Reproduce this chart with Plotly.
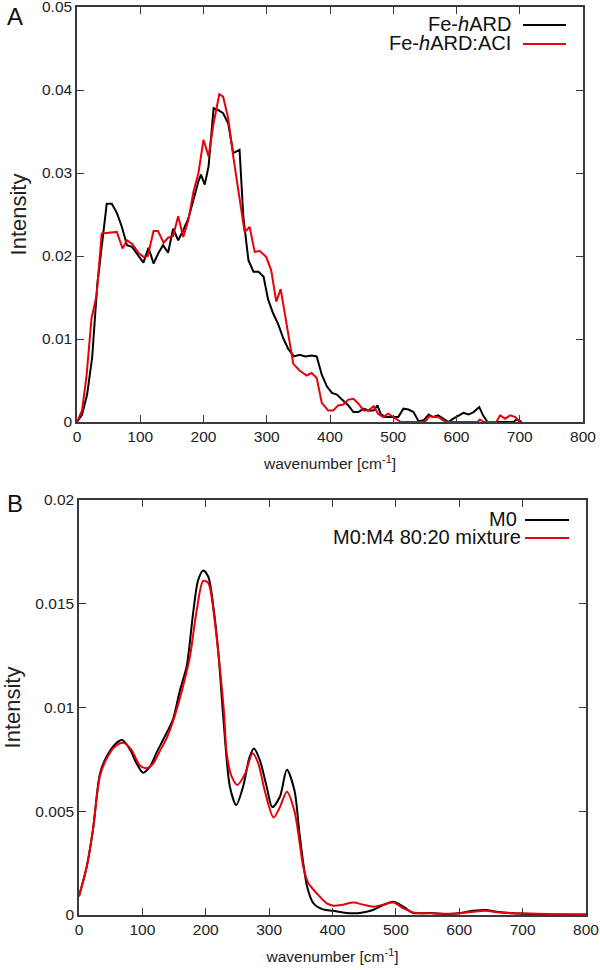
import plotly.graph_objects as go

# ---------------- Panel A data ----------------
name_hard = "Fe-<i>h</i>ARD"
name_aci = "Fe-<i>h</i>ARD:ACI"
wn_hard = [0, 8, 16, 24, 32, 40, 47, 55, 63, 71, 79, 87, 97, 105, 113, 121, 129, 136, 144, 152,
           160, 168, 176, 184, 192, 196, 202, 208, 216, 223, 231, 239, 247, 257, 263, 271, 279, 287,
           295, 302, 310, 318, 326, 334, 343, 352, 361, 371, 379, 387, 395, 403, 411, 419, 429, 437,
           445, 453, 461, 469, 475, 480, 487, 495, 503, 508, 516, 524, 532, 540, 548, 556, 563, 571,
           579, 587, 595, 603, 611, 619, 627, 636, 642, 649, 690, 695, 703]
int_hard = [0, 0.0009, 0.0033, 0.0078, 0.0165, 0.0215, 0.0263, 0.0263, 0.0252, 0.0235, 0.0213,
            0.0211, 0.0201, 0.0192, 0.0210, 0.0191, 0.0204, 0.0213, 0.0204, 0.0233, 0.0219, 0.0231,
            0.0245, 0.0268, 0.0290, 0.0298, 0.0286, 0.0308, 0.0378, 0.0376, 0.0372, 0.0360, 0.0324,
            0.0328, 0.0247, 0.0195, 0.0181, 0.0181, 0.0175, 0.0148, 0.0131, 0.0118, 0.0101, 0.0088,
            0.0079, 0.0081, 0.0079, 0.0080, 0.0079, 0.0057, 0.0043, 0.0035, 0.0033, 0.0027, 0.0020,
            0.0012, 0.0012, 0.0016, 0.0014, 0.0014, 0.0020, 0.0010, 0.0006, 0.0006, 0.0006, 0.0006,
            0.0016, 0.0015, 0.0012, 0.0001, 0.0002, 0.0009, 0.0006, 0.0008, 0.0004, 0.0, 0.0004,
            0.0007, 0.0011, 0.0009, 0.0012, 0.0018, 0.0008, 0.0, 0.0, 0.0003, 0.0]
wn_aci = [0, 8, 15, 23, 31, 39, 50, 63, 72, 79, 88, 97, 105, 112, 121, 128, 137, 144, 152, 160,
          168, 176, 184, 192, 200, 208, 216, 225, 231, 239, 247, 255, 265, 273, 281, 289, 299, 307,
          315, 322, 332, 342, 352, 363, 371, 379, 387, 397, 405, 413, 421, 429, 437, 445, 453, 461,
          469, 476, 484, 492, 500, 508, 512, 550, 557, 563, 571, 579, 584, 633, 637, 643, 663, 669,
          677, 685, 693, 700]
int_aci = [0, 0.0014, 0.0055, 0.0125, 0.0153, 0.0227, 0.0228, 0.0229, 0.0209, 0.0219, 0.0214,
           0.0204, 0.0199, 0.0200, 0.0230, 0.0230, 0.0216, 0.0222, 0.0224, 0.0248, 0.0223, 0.0243,
           0.0277, 0.0300, 0.0340, 0.0320, 0.0360, 0.0395, 0.0392, 0.0366, 0.0320, 0.0280, 0.0229,
           0.0235, 0.0205, 0.0206, 0.0199, 0.0183, 0.0145, 0.0160, 0.0117, 0.0070, 0.0062, 0.0056,
           0.0059, 0.0053, 0.0023, 0.0014, 0.0014, 0.0020, 0.0021, 0.0027, 0.0028, 0.0022, 0.0014,
           0.0014, 0.0019, 0.0010, 0.0006, 0.0010, 0.0006, 0.0002, 0.0, 0.0, 0.0007, 0.0006, 0.0006,
           0.0002, 0.0, 0.0, 0.0003, 0.0, 0.0, 0.0008, 0.0004, 0.0008, 0.0006, 0.0]

# ---------------- Panel B data ----------------
name_m0 = "M0"
name_mix = "M0:M4 80:20 mixture"
wn_m0 = [0, 12, 22, 33, 43, 56, 68, 80, 91, 101, 112, 122, 138, 148, 159, 170, 180, 188, 196, 204,
         212, 220, 228, 238, 248, 259, 269, 276, 285, 296, 305, 317, 328, 340, 348, 360, 370, 385,
         401, 422, 443, 464, 480, 496, 512, 527, 555, 581, 601, 622, 641, 659, 685, 711, 750, 800]
int_m0 = [0.0009, 0.0023, 0.0041, 0.0068, 0.0076, 0.0082, 0.00843, 0.0080, 0.0073, 0.00686,
          0.00715, 0.0078, 0.00876, 0.0094, 0.0108, 0.0120, 0.01454, 0.01614, 0.0166, 0.0163,
          0.01486, 0.0126, 0.0094, 0.0062, 0.0053, 0.0062, 0.0076, 0.00803, 0.0075, 0.0062, 0.0052,
          0.0057, 0.0070, 0.0060, 0.0039, 0.00136, 0.00056, 0.00027, 0.0002, 0.0001, 0.0001,
          0.00024, 0.00048, 0.00064, 0.0004, 0.0001, 0.0001, 0.00005, 0.0001, 0.0002, 0.00024,
          0.00016, 0.00008, 0.00005, 0.00003, 0.00002]
wn_mix = [0, 12, 22, 33, 43, 56, 70, 83, 96, 106, 117, 127, 138, 148, 164, 175, 185, 196, 204, 214,
          222, 229, 233, 241, 250, 262, 274, 283, 293, 307, 317, 328, 340, 349, 354, 362, 375, 391,
          401, 414, 433, 448, 464, 480, 496, 512, 527, 555, 590, 622, 641, 664, 696, 750, 800]
int_mix = [0.0009, 0.0023, 0.0041, 0.0067, 0.0075, 0.0081, 0.0083, 0.00795, 0.0072, 0.00707,
           0.0073, 0.00787, 0.0085, 0.0093, 0.0110, 0.01245, 0.01454, 0.0161, 0.0160, 0.0142,
           0.0120, 0.0097, 0.0078, 0.00667, 0.00627, 0.0068, 0.0078, 0.0073, 0.0060, 0.0047,
           0.0052, 0.00594, 0.0050, 0.0033, 0.0023, 0.00153, 0.00105, 0.00056, 0.00045, 0.00048,
           0.0006, 0.0005, 0.0004, 0.0005, 0.0006, 0.00032, 0.00012, 0.00008, 0.00006, 0.00016,
           0.0002, 0.00012, 0.00008, 0.00004, 0.00003]

x_ticks = [0, 100, 200, 300, 400, 500, 600, 700, 800]
yA_ticks = [0, 0.01, 0.02, 0.03, 0.04, 0.05]
yB_ticks = [0, 0.005, 0.01, 0.015, 0.02]

BLACK = "#000000"
RED = "#e8000b"
AXC = "#3a3a3a"
FONT = "Liberation Sans, Arial, sans-serif"

fig = go.Figure()
fig.add_trace(go.Scatter(x=wn_hard, y=int_hard, mode="lines", name=name_hard,
                         line=dict(color=BLACK, width=2), xaxis="x", yaxis="y", showlegend=False))
fig.add_trace(go.Scatter(x=wn_aci, y=int_aci, mode="lines", name=name_aci,
                         line=dict(color=RED, width=2), xaxis="x", yaxis="y", showlegend=False))
fig.add_trace(go.Scatter(x=wn_m0, y=int_m0, mode="lines", name=name_m0,
                         line=dict(color=BLACK, width=2, shape="spline", smoothing=0.8),
                         xaxis="x2", yaxis="y2", showlegend=False))
fig.add_trace(go.Scatter(x=wn_mix, y=int_mix, mode="lines", name=name_mix,
                         line=dict(color=RED, width=2, shape="spline", smoothing=0.8),
                         xaxis="x2", yaxis="y2", showlegend=False))

W, H = 600, 970
L, R, T, B = 77, 14, 7, 55
pw, ph = W - L - R, H - T - B


def px(x):
    return (x - L) / pw


def py(y):
    return (H - B - y) / ph


axis_common = dict(showline=True, linecolor=AXC, linewidth=1.5, mirror="ticks", ticks="inside",
                   ticklen=7, tickwidth=1.2, tickcolor=AXC, showgrid=False, zeroline=False,
                   automargin=False, ticklabeloverflow="allow",
                   tickfont=dict(size=15.5, color="#222", family=FONT), layer="above traces")

xtitle = dict(text="wavenumber [cm<sup>-1</sup>]", font=dict(size=15.5, color="#222", family=FONT),
              standoff=14)
ytitle = dict(text="Intensity", font=dict(size=22, color="#222", family=FONT), standoff=9)

fig.update_layout(
    width=W, height=H, margin=dict(l=L, r=R, t=T, b=B, autoexpand=False),
    paper_bgcolor="white", plot_bgcolor="white",
    font=dict(family=FONT, color="#222"),
    xaxis=dict(domain=[0, px(583)], anchor="y", range=[0, 800], tickvals=x_ticks,
               title=xtitle, **axis_common),
    yaxis=dict(domain=[py(422), 1], anchor="x", range=[0, 0.05], tickvals=yA_ticks,
               title=ytitle, **axis_common),
    xaxis2=dict(domain=[px(79), 1], anchor="y2", range=[0, 800], tickvals=x_ticks,
                title=xtitle, **axis_common),
    yaxis2=dict(domain=[0, py(500)], anchor="x2", range=[0, 0.02], tickvals=yB_ticks,
                title=ytitle, **axis_common),
)

annotations = [
    dict(text="A", x=px(15), y=py(16), xref="paper", yref="paper", showarrow=False,
         xanchor="center", yanchor="middle", font=dict(size=24, color="#111", family=FONT)),
    dict(text="B", x=px(15), y=py(503), xref="paper", yref="paper", showarrow=False,
         xanchor="center", yanchor="middle", font=dict(size=24, color="#111", family=FONT)),
]
shapes = []
legend_rows = [
    (name_hard, BLACK, 513, 24, 523, 566),
    (name_aci, RED, 513, 43, 523, 566),
    (name_m0, BLACK, 519, 519, 525, 569),
    (name_mix, RED, 523, 537, 525, 569),
]
for txt, col, xr, yc, x0, x1 in legend_rows:
    annotations.append(dict(text=txt, x=px(xr), y=py(yc), xref="paper", yref="paper",
                            xanchor="right", yanchor="middle", showarrow=False,
                            font=dict(size=20, color="#111", family=FONT)))
    shapes.append(dict(type="line", xref="paper", yref="paper", x0=px(x0), x1=px(x1),
                       y0=py(yc + 1), y1=py(yc + 1), line=dict(color=col, width=2)))

fig.update_layout(annotations=annotations, shapes=shapes)
fig.write_html("out.html", config={"displayModeBar": False},
               post_script="document.body.style.margin='0';document.body.style.overflow='hidden';")
